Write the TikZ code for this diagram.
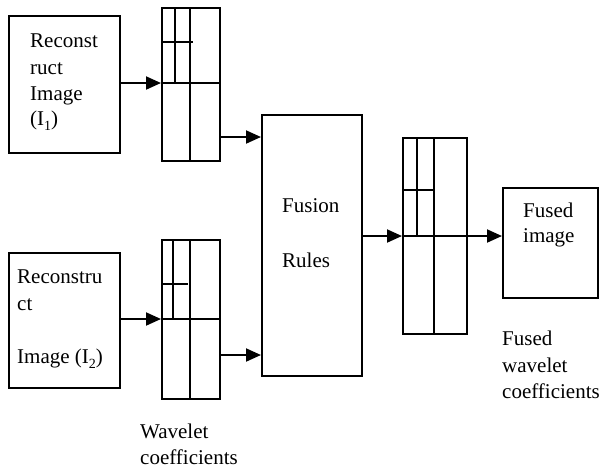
\documentclass[tikz,border=0pt]{standalone}
\usepackage{fontspec}
\setmainfont{Liberation Serif}
\usetikzlibrary{arrows.meta}
\newcommand{\lowidx}[1]{\raisebox{-0.28em}{\fontsize{14}{14}\selectfont #1}}
\begin{document}
\begin{tikzpicture}[x=1pt,y=-1pt,
  box/.style={draw,line width=1.9pt,inner sep=0pt,anchor=north west},
  gridline/.style={line width=1.9pt},
  arr/.style={line width=1.9pt,-{Triangle[length=15pt,width=13pt]}},
  lbl/.style={anchor=base west,inner sep=0pt,font=\fontsize{21}{26}\selectfont}]
\useasboundingbox (0,0) rectangle (601,472);

% input images
\node[box,minimum width=111pt,minimum height=137pt] (img1) at (8,15) {};
\node[box,minimum width=111pt,minimum height=135pt] (img2) at (8,252) {};

% wavelet decomposition grids
\node[box,minimum width=58pt,minimum height=153pt] (g1) at (161,7) {};
\node[box,minimum width=58pt,minimum height=159pt] (g2) at (161,239) {};
\node[box,minimum width=64pt,minimum height=196pt] (g3) at (402,137) {};

% fusion stage and output
\node[box,minimum width=100pt,minimum height=261pt] (fus) at (261,114) {};
\node[box,minimum width=95pt,minimum height=110pt] (out) at (502,187) {};

% sub-band lines of grid 1
\draw[gridline] (175,7) -- (175,83);
\draw[gridline] (190,7) -- (190,160);
\draw[gridline] (161,42) -- (193,42);
\draw[gridline] (161,83) -- (219,83);
% sub-band lines of grid 2
\draw[gridline] (173,239) -- (173,319);
\draw[gridline] (190,239) -- (190,398);
\draw[gridline] (161,284) -- (188,284);
\draw[gridline] (161,319) -- (219,319);
% sub-band lines of grid 3
\draw[gridline] (417,137) -- (417,236);
\draw[gridline] (434,137) -- (434,333);
\draw[gridline] (402,190) -- (434,190);
\draw[gridline] (402,236) -- (466,236);

% connectors
\coordinate (a1) at (119,83);
\coordinate (a2) at (119,319);
\coordinate (b1) at (219,137);
\coordinate (b2) at (219,355);
\coordinate (c1) at (361,236);
\coordinate (d1) at (466,236);
\draw[arr] (a1) -- (a1 -| g1.west);
\draw[arr] (a2) -- (a2 -| g2.west);
\draw[arr] (b1) -- (b1 -| fus.west);
\draw[arr] (b2) -- (b2 -| fus.west);
\draw[arr] (c1) -- (c1 -| g3.west);
\draw[arr] (d1) -- (d1 -| out.west);

% labels
\node[lbl] (t1) at (30,47) {Reconst};
\node[lbl] (t2) at (30,74) {ruct};
\node[lbl] (t3) at (30,100) {Image};
\node[lbl] (t4) at (30,125) {(I\lowidx{1})};

\node[lbl] (t5) at (17,283) {Reconstru};
\node[lbl] (t6) at (17,310) {ct};
\node[lbl] (t7) at (17,363) {Image (I\lowidx{2})};

\node[lbl] (t8) at (282,212) {Fusion};
\node[lbl] (t9) at (282,267) {Rules};

\node[lbl] (t10) at (523,217) {Fused};
\node[lbl] (t11) at (523,242) {image};

\node[lbl] (t12) at (140,438) {Wavelet};
\node[lbl] (t13) at (140,464) {coefficients};

\node[lbl] (t14) at (502,345) {Fused};
\node[lbl] (t15) at (502,372) {wavelet};
\node[lbl] (t16) at (502,398) {coefficients};
\end{tikzpicture}
\end{document}
